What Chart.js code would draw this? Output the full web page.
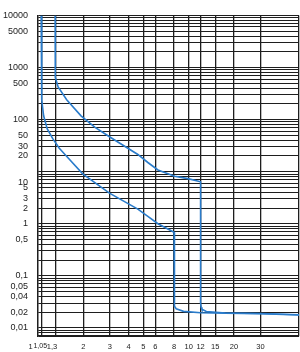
<!DOCTYPE html>
<html>
<head>
<meta charset="utf-8">
<script src="https://cdn.jsdelivr.net/npm/chart.js@4"></script>
<style>
  html, body { margin: 0; padding: 0; background: #fff; }
  #wrap { position: relative; width: 300px; height: 352px; }
</style>
</head>
<body>
<div id="wrap"><canvas id="curva"></canvas></div>
<script>
// valores (x = múltiplo de In, y = tiempo en s)
const xLabels = [1, 1.05, 1.3, 2, 3, 4, 5, 6, 8, 10, 12, 15, 20, 30];
const yLabels = [10000, 5000, 1000, 500, 100, 50, 30, 20, 10, 5, 3, 2, 1, 0.5, 0.1, 0.05, 0.04, 0.02, 0.01];

const curvaInfX = [1.05, 1.055, 1.062, 1.09, 1.15, 1.25, 1.38, 1.51, 1.98, 2.98, 4.6, 5.36, 6.25, 8, 8, 8.1, 8.27, 9.25, 12, 17.5, 30, 54];
const curvaInfY = [10000, 1000, 240, 118, 66.7, 43.5, 28.4, 21.4, 9.1, 3.88, 1.91, 1.39, 1.0, 0.687, 0.031, 0.026, 0.0233, 0.0208, 0.0196, 0.0191, 0.0187, 0.0177];

const curvaSupX = [1.3, 1.3, 1.305, 1.36, 1.55, 1.93, 2.38, 2.98, 4.6, 5.36, 6.25, 8.07, 9.9, 12, 12, 12.1, 12.25, 13.1, 17.5, 30, 54];
const curvaSupY = [10000, 1000, 647, 423, 240, 118, 71.7, 46.8, 21.4, 15.0, 10.8, 8.15, 7.36, 6.4, 0.03, 0.025, 0.0228, 0.0206, 0.0194, 0.0189, 0.0179];

const xMin = 1, xMax = 54;
const yMin = 0.007, yMax = 10000;

const azul = "#2a7ccb";
const rejilla = "#1e1e1e";

function puntos(xs, ys) {
  return xs.map((x, i) => ({ x: x, y: ys[i] }));
}

function formato(v) {
  return String(v).replace(".", ",");
}

// líneas de rejilla logarítmicas (1..9 por década)
function rejillaY() {
  const valores = [];
  for (let d = -3; d <= 4; d++) {
    for (let m = 1; m <= 9; m++) {
      const v = +(m * Math.pow(10, d)).toPrecision(3);
      if (v >= yMin && v <= yMax) valores.push(v);
    }
  }
  return valores;
}

// etiquetas del eje X: las tres primeras van apretadas a la izquierda, como en el original
function etiquetaX(v) {
  if (!xLabels.includes(v)) return "";
  if (v === 1) return "1       ";
  if (v === 1.05) return "1,05 ";
  if (v === 1.3) return "1,3   ";
  return formato(v);
}

// etiquetas del eje Y: "10" va bajada y "0,05" subida en el original
function etiquetaY(v) {
  if (!yLabels.includes(v)) return "";
  if (v === 10) return ["", "", "10"];
  if (v === 0.05) return ["0,05", ""];
  return formato(v);
}

const ctx = document.getElementById("curva").getContext("2d");
new Chart(ctx, {
  type: "line",
  data: {
    datasets: [
      {
        data: puntos(curvaInfX, curvaInfY),
        borderColor: azul,
        borderWidth: 1.6,
        pointRadius: 0,
        tension: 0,
        fill: false
      },
      {
        data: puntos(curvaSupX, curvaSupY),
        borderColor: azul,
        borderWidth: 1.6,
        pointRadius: 0,
        tension: 0,
        fill: false
      }
    ]
  },
  options: {
    responsive: true,
    maintainAspectRatio: false,
    animation: false,
    layout: { padding: { top: 4, right: 1, bottom: 0, left: 0 } },
    plugins: { legend: { display: false }, tooltip: { enabled: false } },
    scales: {
      x: {
        type: "logarithmic",
        min: xMin,
        max: xMax,
        afterBuildTicks: scale => {
          scale.ticks = xLabels.concat([xMax]).map(v => ({ value: v }));
        },
        afterFit: scale => {
          scale.height = 16;
          scale.paddingLeft = 0;
          scale.paddingRight = 0;
        },
        grid: { color: rejilla, lineWidth: 1.3, drawTicks: false },
        border: { color: rejilla, width: 1.3 },
        ticks: {
          autoSkip: false,
          maxRotation: 0,
          padding: 6,
          color: "#222",
          font: ctx => ({
            family: "Liberation Sans",
            size: (ctx.tick && ctx.tick.value === 1.05) ? 7 : 7.5
          }),
          callback: v => etiquetaX(v)
        }
      },
      y: {
        type: "logarithmic",
        min: yMin,
        max: yMax,
        afterBuildTicks: scale => {
          scale.ticks = rejillaY().map(v => ({ value: v }));
        },
        afterFit: scale => { scale.width = 38; },
        grid: { color: rejilla, lineWidth: 1, drawTicks: false },
        border: { color: rejilla, width: 1.3 },
        ticks: {
          autoSkip: false,
          padding: 10,
          color: "#222",
          font: { family: "Liberation Sans", size: 9, lineHeight: 1.2 },
          callback: v => etiquetaY(v)
        }
      }
    }
  }
});
</script>
</body>
</html>
